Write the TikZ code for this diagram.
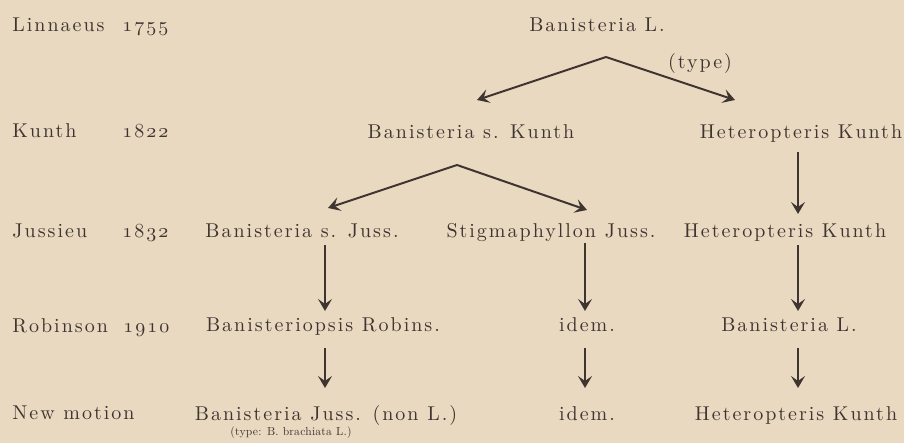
\documentclass[tikz,border=0pt]{standalone}
\usepackage{fontspec}
\usetikzlibrary{arrows.meta,calc}
\newfontfamily\lmwide{lmroman10-regular.otf}[LetterSpace=10]
\newfontfamily\lmsmall{lmroman10-regular.otf}[LetterSpace=2]
\definecolor{paper}{HTML}{EAD9C1}
\definecolor{ink}{HTML}{3E3430}
\newcommand\osn[1]{{\usefont{OML}{cmm}{m}{it}#1}}
\newcommand\yrs[4]{\osn{#1}\kern1.0pt\osn{#2}\kern1.0pt\osn{#3}\kern1.0pt\osn{#4}}
\tikzset{
  txt/.style={font=\lmwide\fontsize{10}{12}\selectfont, text=ink, inner sep=0pt, anchor=base},
  lft/.style={txt, anchor=base west},
  small/.style={txt, font=\lmsmall\fontsize{5.8}{7}\selectfont},
  arr/.style={draw=ink, line width=1pt, -{Stealth[length=6pt,width=7pt,inset=2.5pt]}}
}
\begin{document}
\begin{tikzpicture}[x=0.5pt,y=-0.5pt]
\fill[paper] (0,0) rectangle (904,443);
\useasboundingbox (0,0) rectangle (904,443);
% left column
\node[lft] (n1) at (12,32) {Linnaeus};
\node[lft] (y1) at (122,32) {\yrs1755};
\node[lft] (n2) at (12,138) {Kunth};
\node[lft] (y2) at (122,138) {\yrs1822};
\node[lft] (n3) at (12,238) {Jussieu};
\node[lft] (y3) at (122,238) {\yrs1832};
\node[lft] (n4) at (12,332) {Robinson};
\node[lft] (y4) at (123,332) {\yrs1910};
\node[lft] (n5) at (12,419) {New motion};
% tree
\node[txt] (bl) at (597,32) {Banisteria L.};
\node[txt] (ty) at (700,69) {(type)};
\node[txt] (bsk) at (471,139) {Banisteria s. Kunth};
\node[txt] (hk1) at (801,139) {Heteropteris Kunth};
\node[txt] (bsj) at (302,238) {Banisteria s. Juss.};
\node[txt] (stj) at (551,238) {Stigmaphyllon Juss.};
\node[txt] (hk2) at (785,238) {Heteropteris Kunth};
\node[txt] (bro) at (323,331) {Banisteriopsis Robins.};
\node[txt] (id1) at (587,331) {idem.};
\node[txt] (bl2) at (789,331) {Banisteria L.};
\node[txt] (bj) at (326,420) {Banisteria Juss. (non L.)};
\node[small] (sub) at (291,435) {(type: B. brachiata L.)};
\node[txt] (id2) at (587,420) {idem.};
\node[txt] (hk3) at (796,420) {Heteropteris Kunth};
% split points and ends
\coordinate (s1) at (606,57);
\coordinate (e1l) at (477,100);
\coordinate (e1r) at (735,100);
\coordinate (s2) at (457,165);
\coordinate (e2l) at (328,208);
\coordinate (e2r) at (587,210);
\coordinate (c1) at (325,0);
\coordinate (c2) at (585,0);
\coordinate (c3) at (798,0);
\draw[arr] (s1) -- (e1l);
\draw[arr] (s1) -- (e1r);
\draw[arr] (s2) -- (e2l);
\draw[arr] (s2) -- (e2r);
\draw[arr] ($(hk1.base -| c3)+(0,13)$) -- ($(hk2.base -| c3)+(0,-24)$);
\draw[arr] ($(bsj.base -| c1)+(0,7)$) -- ($(bro.base -| c1)+(0,-20)$);
\draw[arr] ($(stj.base -| c2)+(0,5)$) -- ($(id1.base -| c2)+(0,-20)$);
\draw[arr] ($(hk2.base -| c3)+(0,7)$) -- ($(bl2.base -| c3)+(0,-20)$);
\draw[arr] ($(bro.base -| c1)+(0,17)$) -- ($(bj.base -| c1)+(0,-32)$);
\draw[arr] ($(id1.base -| c2)+(0,17)$) -- ($(id2.base -| c2)+(0,-32)$);
\draw[arr] ($(bl2.base -| c3)+(0,17)$) -- ($(hk3.base -| c3)+(0,-32)$);
\end{tikzpicture}
\end{document}
